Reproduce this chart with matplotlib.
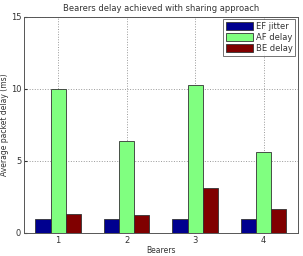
import matplotlib
matplotlib.use("Agg")
import matplotlib.pyplot as plt
import numpy as np

bearers = [1, 2, 3, 4]
ef_jitter = [1.0, 1.0, 1.0, 1.0]
af_delay = [10.0, 6.4, 10.3, 5.65]
be_delay = [1.35, 1.28, 3.1, 1.65]
series_names = ["EF jitter", "AF delay", "BE delay"]
colors = ["#00008f", "#80ff80", "#800000"]

fig = plt.figure(figsize=(3.03, 2.56), dpi=100)
ax = fig.add_axes([0.079, 0.09, 0.904, 0.844])
x = np.array(bearers, dtype=float)
w = 0.222
for i, (vals, name, c) in enumerate(zip([ef_jitter, af_delay, be_delay], series_names, colors)):
    ax.bar(x + (i - 1) * w, vals, width=w, color=c, edgecolor="#333333", linewidth=0.6, label=name, zorder=3)

ax.set_xlim(0.5, 4.5)
ax.set_ylim(0, 15)
ax.set_xticks(bearers)
ax.set_yticks([0, 5, 10, 15])
ax.tick_params(labelsize=6, length=2, direction="in", colors="#333333", pad=2)
ax.grid(True, linestyle=":", color="#999999", linewidth=0.7, zorder=0)
ax.set_axisbelow(True)
for s in ax.spines.values():
    s.set_color("#555555")
    s.set_linewidth(0.7)
ax.set_title("Bearers delay achieved with sharing approach", fontsize=6, color="#333333", pad=4)
ax.set_xlabel("Bearers", fontsize=5.5, color="#333333", labelpad=1)
ax.set_ylabel("Average packet delay (ms)", fontsize=5.5, color="#333333", labelpad=1)
leg = ax.legend(loc="upper right", fontsize=6, frameon=True, fancybox=False, edgecolor="#333333",
                borderpad=0.3, handlelength=3.2, handleheight=1.0, labelspacing=0.25, handletextpad=0.4,
                borderaxespad=0.3)
leg.get_frame().set_linewidth(0.6)
for t in leg.get_texts():
    t.set_color("#333333")
fig.savefig("out.png", dpi=100, facecolor="white")
